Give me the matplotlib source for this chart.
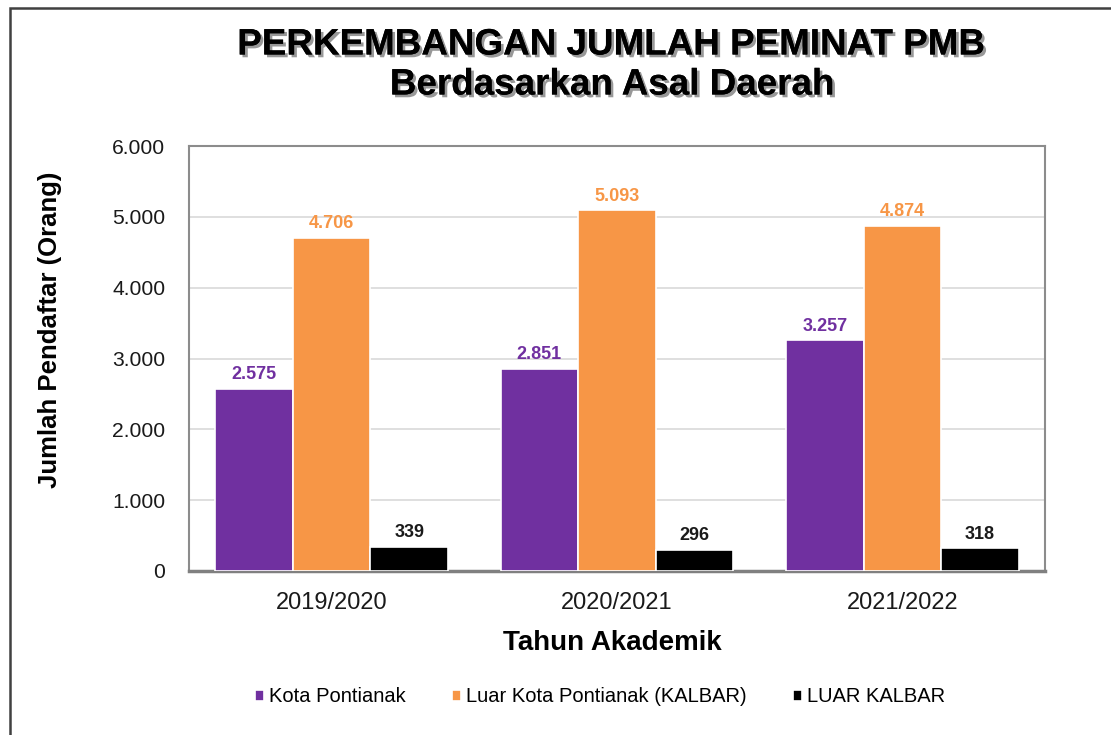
import matplotlib
matplotlib.use("Agg")
import matplotlib.pyplot as plt
import matplotlib.patheffects as pe
from matplotlib.patches import Rectangle
import numpy as np

categories = ["2019/2020", "2020/2021", "2021/2022"]
series_names = ["Kota Pontianak", "Luar Kota Pontianak (KALBAR)", "LUAR KALBAR"]
kota = [2575, 2851, 3257]
luar_kota = [4706, 5093, 4874]
luar_kalbar = [339, 296, 318]
yticks = [0, 1000, 2000, 3000, 4000, 5000, 6000]
ytick_labels = ["0", "1.000", "2.000", "3.000", "4.000", "5.000", "6.000"]

colors = ["#7030A0", "#F79646", "#000000"]
label_colors = ["#7030A0", "#F79646", "#1a1a1a"]

plt.rcParams['font.family'] = ['Liberation Sans', 'DejaVu Sans']

fig = plt.figure(figsize=(11.11, 7.35), dpi=100)
W, H = 1111, 735
# outer border
fig.patches.append(Rectangle((10 / W, -0.05), 1.2, (H - 8) / H + 0.05, transform=fig.transFigure,
                             fill=False, edgecolor="#404040", linewidth=1.8, zorder=0))

ax = fig.add_axes([189 / W, 1 - 571 / H, (1045 - 189) / W, (571 - 146) / H])

x = np.arange(len(categories))
bw = 0.272
data = [kota, luar_kota, luar_kalbar]
for i, (vals, c, lc) in enumerate(zip(data, colors, label_colors)):
    pos = x + (i - 1) * bw
    ax.bar(pos, vals, width=bw, color=c, edgecolor="white", linewidth=1.2, zorder=3, label=series_names[i])
    for p, v in zip(pos, vals):
        s = f"{v:,}".replace(",", ".")
        ax.text(p, v + 80, s, ha="center", va="bottom", fontsize=13, fontweight="bold", color=lc, zorder=4)

ax.set_xlim(-0.5, 2.5)
ax.set_ylim(0, 6000)
ax.set_yticks(yticks)
ax.set_yticklabels(ytick_labels, fontsize=15.2, color="#1a1a1a")
ax.set_xticks(x)
ax.set_xticklabels(categories, fontsize=17, color="#1a1a1a")
ax.tick_params(axis="both", length=0)
ax.tick_params(axis="y", pad=17)
ax.tick_params(axis="x", pad=15)
ax.yaxis.grid(True, color="#d9d9d9", linewidth=1.2, zorder=0)
ax.set_axisbelow(True)
for side in ["left", "top", "right"]:
    ax.spines[side].set_color("#8c8c8c")
    ax.spines[side].set_linewidth(1.5)
ax.spines["bottom"].set_color("#808080")
ax.spines["bottom"].set_linewidth(2.5)

fig.text(612 / W, 1 - 643 / H, "Tahun Akademik", fontsize=20, fontweight="bold",
         ha="center", va="center")
fig.text(50 / W, 1 - 330 / H, "Jumlah Pendaftar (Orang)", rotation=90, fontsize=18.5,
         fontweight="bold", ha="center", va="center")

shadow = [pe.withSimplePatchShadow(offset=(2, -2), shadow_rgbFace="#444444", alpha=0.55), pe.Normal()]
fig.text(611 / W, 1 - 45 / H, "PERKEMBANGAN JUMLAH PEMINAT PMB", fontsize=26.5, fontweight="bold",
         ha="center", va="center", path_effects=shadow)
fig.text(612 / W, 1 - 85 / H, "Berdasarkan Asal Daerah", fontsize=26.5, fontweight="bold",
         ha="center", va="center", path_effects=shadow)

leg = fig.legend(loc="center", bbox_to_anchor=(600 / W, 1 - 697 / H), ncol=3, frameon=False,
                 fontsize=14.5, handlelength=0.45, handleheight=0.45, handletextpad=0.25,
                 columnspacing=2.3)

fig.savefig("out.png", dpi=100)
